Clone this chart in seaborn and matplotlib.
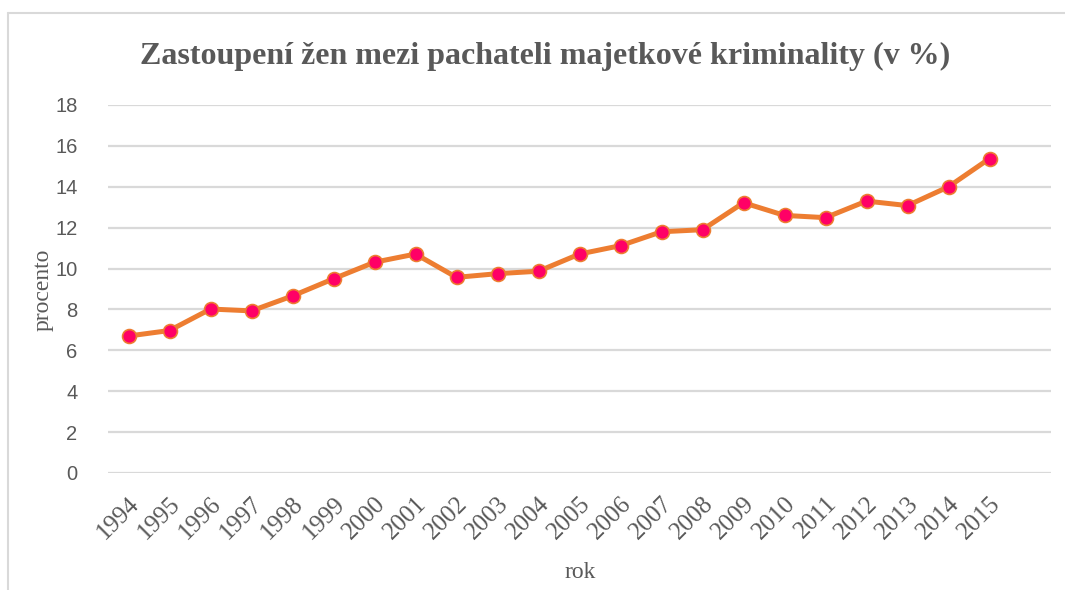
import matplotlib
matplotlib.use("Agg")
import matplotlib.pyplot as plt
import seaborn as sns
import pandas as pd

years = [str(y) for y in range(1994, 2016)]
values = [6.70, 6.97, 8.02, 7.93, 8.66, 9.50, 10.31, 10.71, 9.57, 9.75, 9.87,
          10.71, 11.12, 11.80, 11.90, 13.22, 12.60, 12.49, 13.30, 13.08, 14.00, 15.38]
y_ticks = [0, 2, 4, 6, 8, 10, 12, 14, 16, 18]

title = "Zastoupení žen mezi pachateli majetkové kriminality (v %)"
x_label = "rok"
y_label = "procento"

text_col = "#595959"
grid_col = "#D9D9D9"
line_col = "#ED7D31"
marker_col = "#FF0066"

sns.set_theme(style="white")
plt.rcParams["font.family"] = ["Liberation Serif", "DejaVu Serif"]

df = pd.DataFrame({"rok": years, "procento": values})

fig = plt.figure(figsize=(10.65, 5.9), dpi=100)
W, H = 1065, 590
ax = fig.add_axes([108 / W, 1 - 473 / H, (1051 - 108) / W, (473 - 105) / H])

sns.lineplot(data=df, x="rok", y="procento", ax=ax, color=line_col, linewidth=3.6,
             marker="o", markersize=10, markerfacecolor=marker_col,
             markeredgecolor=line_col, markeredgewidth=1.2, sort=False)

ax.set_xlim(-0.5, 22.5)
ax.set_ylim(0, 18)
ax.set_yticks(y_ticks)
ax.yaxis.grid(True, color=grid_col, linewidth=1.6)
ax.xaxis.grid(False)
for s in ax.spines.values():
    s.set_visible(False)
ax.tick_params(axis="both", length=0)
ax.tick_params(axis="y", pad=22)
ax.tick_params(axis="x", pad=14)

for lbl in ax.get_yticklabels():
    lbl.set_fontfamily("Liberation Sans")
    lbl.set_fontsize(14.5)
    lbl.set_color(text_col)
ax.set_xticks(range(len(years)))
ax.set_xticklabels(years, rotation=45, ha="right", rotation_mode="anchor",
                   fontsize=18, color=text_col)

ax.set_xlabel("")
ax.set_ylabel("")
fig.text(580 / W, 1 - 572 / H, x_label, ha="center", va="center", fontsize=17, color=text_col)
fig.text(43 / W, 1 - 290 / H, y_label, ha="center", va="center", rotation=90,
         fontsize=17, color=text_col)
fig.text(545 / W, 1 - 56 / H, title, ha="center", va="center", fontsize=23,
         fontweight="bold", color=text_col)

# chart frame
fig.add_artist(plt.Line2D([8 / W, 8 / W], [0, 1 - 13 / H], color=grid_col, linewidth=1.5))
fig.add_artist(plt.Line2D([8 / W, 1], [1 - 13 / H, 1 - 13 / H], color=grid_col, linewidth=1.5))

fig.savefig("out.png", dpi=100)
